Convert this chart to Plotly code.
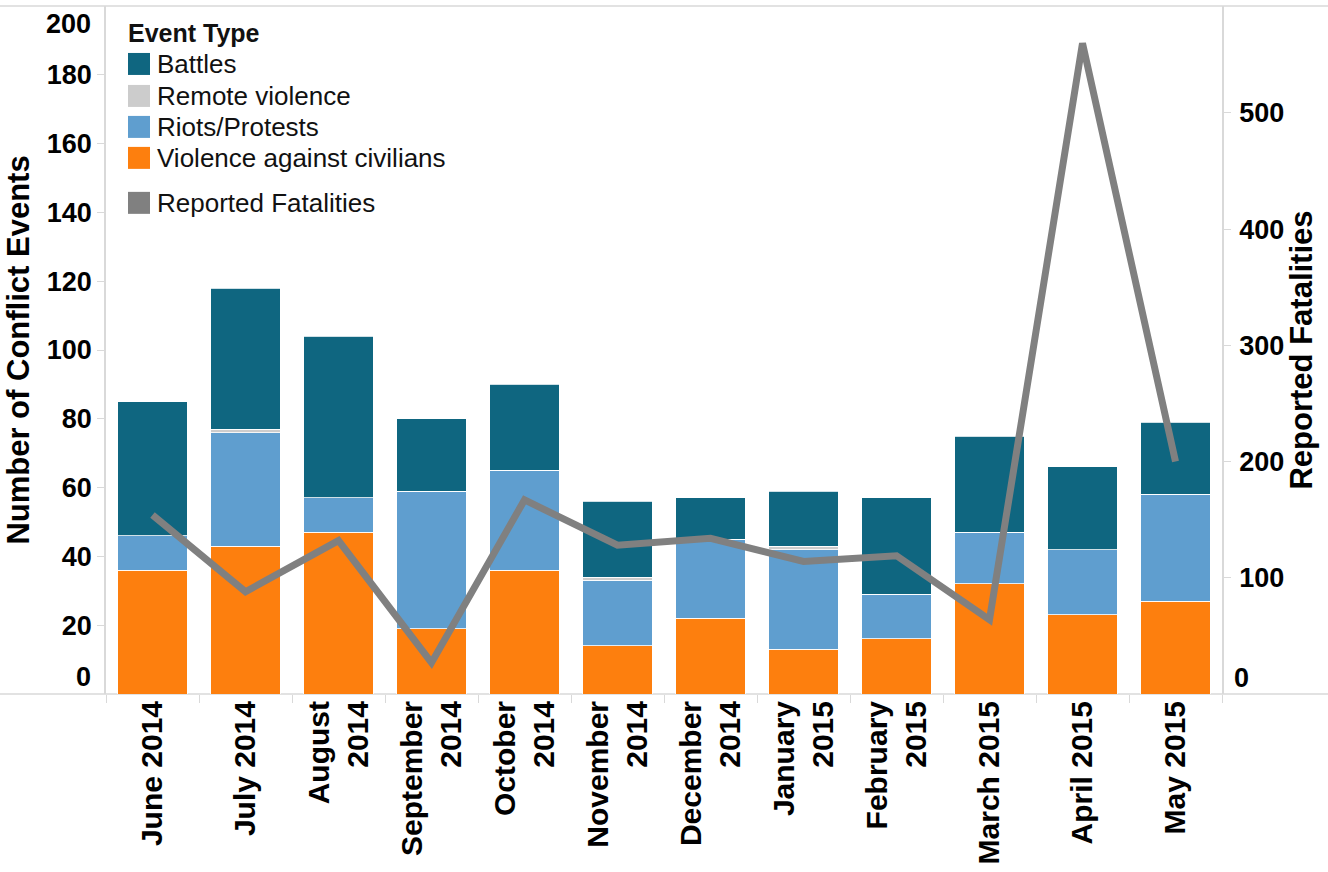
import plotly.graph_objects as go

months = ["June 2014", "July 2014", "August 2014", "September 2014", "October 2014",
          "November 2014", "December 2014", "January 2015", "February 2015",
          "March 2015", "April 2015", "May 2015"]
month_labels = ["June 2014", "July 2014", "August<br>2014", "September<br>2014",
                "October<br>2014", "November<br>2014", "December<br>2014",
                "January<br>2015", "February<br>2015", "March 2015", "April 2015", "May 2015"]

violence_civilians = [36, 43, 47, 19, 36, 14, 22, 13, 16, 32, 23, 27]
riots_protests = [10, 33, 10, 40, 29, 19, 23, 29, 13, 15, 19, 31]
remote_violence = [0, 1, 0, 0, 0, 1, 0, 1, 0, 0, 0, 0]
battles = [39, 41, 47, 21, 25, 22, 12, 16, 28, 28, 24, 21]
fatalities = [154, 88, 132, 27, 167, 128, 134, 114, 119, 64, 560, 200]

left_ticks = [20, 40, 60, 80, 100, 120, 140, 160, 180]
right_ticks = [100, 200, 300, 400, 500]

C_BATTLES = "#0f6680"
C_REMOTE = "#cccccc"
C_RIOTS = "#5f9ecf"
C_VIOL = "#fd7f0e"
C_FAT = "#808080"
AXIS_C = "#d9d9d9"
FONT = "Liberation Sans"

W, H = 1328, 872
L, R, T, B = 106, 106, 6, 177.5
PW, PH = W - L - R, H - T - B


def px(xp):
    return (xp - L) / PW


def py(yp):
    return (H - B - yp) / PH


fig = go.Figure()
for name, vals, col in [("Violence against civilians", violence_civilians, C_VIOL),
                        ("Riots/Protests", riots_protests, C_RIOTS),
                        ("Remote violence", remote_violence, C_REMOTE),
                        ("Battles", battles, C_BATTLES)]:
    fig.add_trace(go.Bar(x=months, y=vals, name=name, marker_color=col,
                         marker_line=dict(color="white", width=0.8),
                         width=0.75, showlegend=False))

fig.add_trace(go.Scatter(x=months, y=fatalities, name="Reported Fatalities", yaxis="y2",
                         mode="lines", line=dict(color=C_FAT, width=7),
                         showlegend=False))

tickfont = dict(family=FONT, size=27, color="#000", weight="bold")

fig.update_layout(
    width=W, height=H,
    margin=dict(l=L, r=R, t=T, b=B),
    barmode="stack",
    plot_bgcolor="white", paper_bgcolor="white",
    xaxis=dict(type="category", tickvals=months, ticktext=month_labels,
               tickangle=-90, tickson="boundaries", ticks="outside", ticklen=8,
               tickcolor=AXIS_C, showgrid=False, showline=False, zeroline=False,
               tickfont=dict(family=FONT, size=30, color="#000", weight="bold")),
    yaxis=dict(range=[0, 200], tickvals=left_ticks, showgrid=False, zeroline=False,
               showline=True, linecolor=AXIS_C, linewidth=1.5, ticks="outside",
               ticklen=7, tickcolor=AXIS_C, ticklabelstandoff=0, tickfont=tickfont,
               title=dict(text="Number of Conflict Events", standoff=8,
                          font=dict(family=FONT, size=31, color="#000", weight="bold"))),
    yaxis2=dict(range=[0, 592], tickvals=right_ticks, overlaying="y", side="right",
                showgrid=False, zeroline=False, showline=True, linecolor=AXIS_C,
                linewidth=1.5, ticks="outside", ticklen=7, tickcolor=AXIS_C,
                ticklabelstandoff=3, tickfont=tickfont,
                title=dict(text="Reported Fatalities", standoff=6,
                           font=dict(family=FONT, size=31, color="#000", weight="bold"))),
    showlegend=False,
)

# frame lines spanning the full width (top and baseline)
for yy in [1, 0]:
    fig.add_shape(type="line", xref="paper", yref="paper", x0=px(0), x1=px(W),
                  y0=yy, y1=yy, line=dict(color=AXIS_C, width=1.5), layer="below")

# shifted end labels (as in the original layout)
fig.add_annotation(xref="paper", yref="paper", x=px(93), y=py(677), text="0",
                   showarrow=False, xanchor="right", yanchor="middle", font=tickfont)
fig.add_annotation(xref="paper", yref="paper", x=px(93), y=py(24), text="200",
                   showarrow=False, xanchor="right", yanchor="middle", font=tickfont)
fig.add_annotation(xref="paper", yref="paper", x=px(1232), y=py(678), text="0",
                   showarrow=False, xanchor="left", yanchor="middle", font=tickfont)

# legend (drawn manually)
fig.add_annotation(xref="paper", yref="paper", x=px(126), y=py(33), text="<b>Event Type</b>",
                   showarrow=False, xanchor="left", yanchor="middle",
                   font=dict(family=FONT, size=25, color="#111"))
legend_items = [("Battles", C_BATTLES, 64), ("Remote violence", C_REMOTE, 96),
                ("Riots/Protests", C_RIOTS, 127), ("Violence against civilians", C_VIOL, 158),
                ("Reported Fatalities", C_FAT, 203)]
for label, col, yc in legend_items:
    fig.add_shape(type="rect", xref="paper", yref="paper", x0=px(128), x1=px(150),
                  y0=py(yc + 11), y1=py(yc - 11), fillcolor=col, line=dict(width=0))
    fig.add_annotation(xref="paper", yref="paper", x=px(155), y=py(yc), text=label,
                       showarrow=False, xanchor="left", yanchor="middle",
                       font=dict(family=FONT, size=26, color="#111"))

fig.write_html("out.html", config={"displayModeBar": False},
               post_script="document.body.style.margin='0px';document.body.style.overflow='hidden';")
